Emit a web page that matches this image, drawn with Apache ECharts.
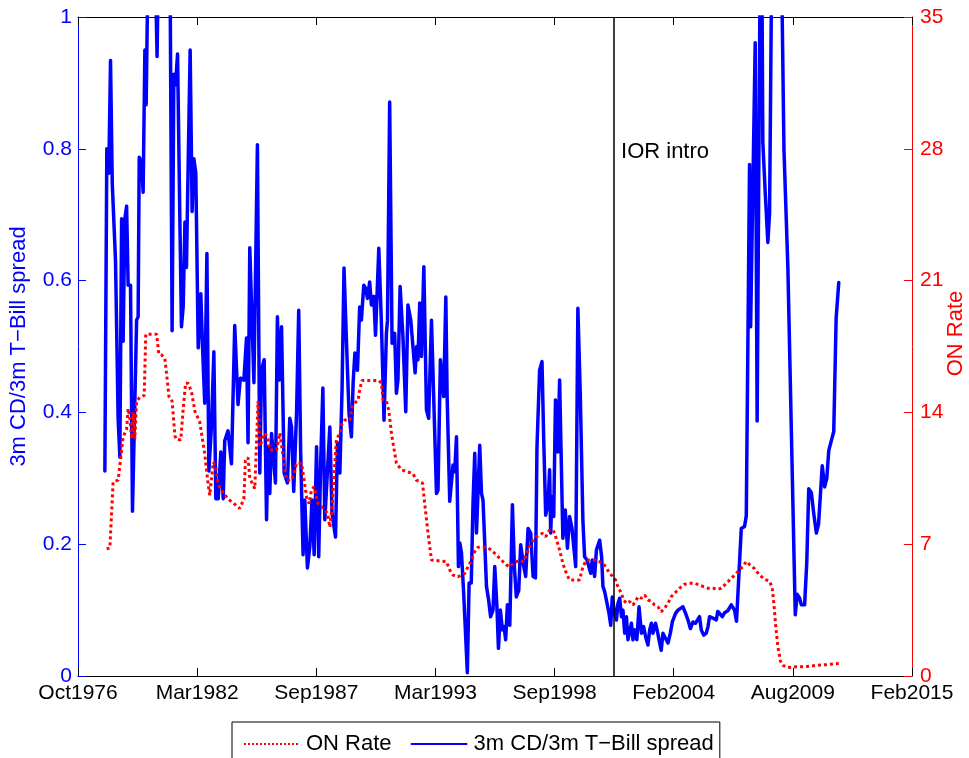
<!DOCTYPE html>
<html>
<head>
<meta charset="utf-8">
<script src="https://cdn.jsdelivr.net/npm/echarts@6/dist/echarts.min.js"></script>
<style>
html,body{margin:0;padding:0;background:#fff;overflow:hidden;}
#chart{width:969px;height:758px;}
</style>
</head>
<body>
<div id="chart"></div>
<script>
// ---- data (dates as decimal years) ----
const spreadDates = [
1978.00,1978.09,1978.18,1978.26,1978.34,1978.49,1978.61,1978.69,1978.77,1978.84,1978.92,1979.00,1979.07,1979.18,1979.27,1979.46,1979.53,1979.58,1979.69,1979.76,1979.84,1979.90,1979.99,1980.07,1980.21,1980.40,1980.57,1980.72,1980.85,1980.99,
1981.09,1981.17,1981.25,1981.34,1981.45,1981.52,1981.60,1981.68,1981.75,1981.83,1981.92,1982.01,1982.09,1982.18,1982.29,1982.41,1982.49,1982.59,1982.69,1982.78,1982.90,1983.01,1983.10,1983.21,1983.33,1983.44,1983.51,1983.66,1983.82,1983.97,
1984.12,1984.23,1984.39,1984.51,1984.58,1984.66,1984.85,1985.01,1985.12,1985.20,1985.32,1985.43,1985.50,1985.58,1985.66,1985.73,1985.84,1985.93,1986.01,1986.12,1986.24,1986.39,1986.50,1986.58,1986.68,1986.81,1986.91,1987.00,1987.11,1987.19,
1987.31,1987.42,1987.52,1987.62,1987.73,1987.83,1987.92,1988.02,1988.11,1988.34,1988.44,1988.60,1988.69,1988.80,1988.90,1988.99,1989.10,1989.22,1989.33,1989.41,1989.49,1989.61,1989.71,1989.79,1989.90,1989.99,1990.07,1990.17,1990.25,1990.36,
1990.44,1990.59,1990.71,1990.83,1990.94,1990.99,1991.09,1991.20,1991.32,1991.40,1991.47,1991.57,1991.70,1991.83,1991.93,1992.06,1992.16,1992.26,1992.33,1992.39,1992.47,1992.55,1992.66,1992.78,1992.88,1993.01,1993.24,1993.31,1993.42,1993.51,
1993.57,1993.67,1993.73,1993.85,1994.00,1994.08,1994.16,1994.25,1994.31,1994.39,1994.49,1994.66,1994.74,1994.84,1994.92,1995.00,1995.08,1995.23,1995.31,1995.38,1995.54,1995.64,1995.73,1995.84,1995.92,1996.02,1996.09,1996.18,1996.27,1996.35,
1996.42,1996.50,1996.61,1996.73,1996.82,1996.91,1997.02,1997.11,1997.23,1997.34,1997.45,1997.57,1997.68,1997.79,1997.86,1997.98,1998.09,1998.17,1998.26,1998.37,1998.44,1998.49,1998.55,1998.63,1998.71,1998.82,1998.90,1999.05,1999.16,1999.26,
1999.36,1999.47,1999.64,1999.74,1999.85,1999.97,2000.05,2000.16,2000.33,2000.40,2000.51,2000.59,2000.74,2000.83,2000.89,2000.97,2001.08,2001.17,2001.25,2001.32,2001.43,2001.51,2001.58,2001.66,2001.74,2001.81,2001.89,2001.97,2002.04,2002.12,
2002.20,2002.27,2002.37,2002.45,2002.55,2002.66,2002.76,2002.85,2002.96,2003.04,2003.12,2003.19,2003.31,2003.40,2003.50,2003.57,2003.65,2003.80,2003.88,2003.99,2004.08,2004.23,2004.34,2004.57,2004.69,2004.80,2004.91,2005.03,2005.14,2005.24,
2005.33,2005.41,2005.52,2005.64,2005.72,2005.79,2005.94,2006.10,2006.17,2006.25,2006.38,2006.48,2006.63,2006.79,2006.94,2007.03,2007.14,2007.25,2007.40,2007.48,2007.63,2007.68,2007.74,2007.89,2007.98,2008.16,2008.24,2008.35,2008.47,2008.55,
2008.78,2009.01,2009.21,2009.39,2009.73,2009.82,2009.93,2010.01,2010.16,2010.26,2010.35,2010.47,2010.57,2010.70,2010.80,2010.97,2011.08,2011.18,2011.27,2011.50,2011.61,2011.73
];
const spreadValues = [
0.311,0.80,0.763,0.934,0.748,0.63,0.39,0.332,0.694,0.508,0.694,0.713,0.593,0.593,0.25,0.54,0.545,0.787,0.78,0.734,0.95,0.867,1.10,1.45,1.25,0.94,1.35,1.60,1.35,1.10,
0.524,0.913,0.897,0.944,0.684,0.53,0.561,0.689,0.62,0.78,0.95,0.705,0.785,0.763,0.498,0.58,0.498,0.414,0.641,0.311,0.38,0.492,0.269,0.269,0.34,0.269,0.357,0.372,0.322,0.532,
0.412,0.452,0.449,0.513,0.354,0.65,0.445,0.806,0.308,0.464,0.48,0.237,0.348,0.277,0.368,0.338,0.293,0.545,0.449,0.53,0.308,0.293,0.391,0.378,0.28,0.399,0.555,0.338,0.184,0.267,
0.164,0.196,0.267,0.184,0.348,0.181,0.323,0.437,0.237,0.378,0.247,0.211,0.354,0.308,0.434,0.619,0.51,0.399,0.363,0.445,0.49,0.464,0.56,0.54,0.593,0.588,0.573,0.598,0.563,0.576,
0.517,0.649,0.535,0.388,0.52,0.54,0.871,0.505,0.52,0.429,0.449,0.591,0.515,0.401,0.563,0.54,0.5,0.46,0.5,0.48,0.566,0.485,0.621,0.404,0.391,0.54,0.277,0.282,0.48,0.48,
0.424,0.575,0.424,0.265,0.32,0.31,0.363,0.166,0.202,0.187,0.126,0.005,0.141,0.141,0.262,0.338,0.217,0.35,0.277,0.267,0.136,0.115,0.09,0.1,0.166,0.105,0.042,0.1,0.07,0.075,
0.055,0.108,0.077,0.26,0.166,0.12,0.13,0.199,0.17,0.151,0.224,0.217,0.151,0.149,0.348,0.464,0.477,0.358,0.244,0.262,0.313,0.217,0.272,0.242,0.419,0.34,0.449,0.209,0.252,0.194,
0.242,0.224,0.166,0.558,0.429,0.237,0.181,0.176,0.156,0.176,0.151,0.191,0.206,0.181,0.136,0.128,0.11,0.095,0.077,0.12,0.095,0.085,0.11,0.118,0.09,0.1,0.065,0.09,0.055,0.055,
0.08,0.055,0.07,0.055,0.105,0.065,0.075,0.06,0.047,0.07,0.08,0.065,0.08,0.067,0.05,0.039,0.065,0.055,0.05,0.065,0.082,0.095,0.1,0.105,0.095,0.085,0.072,0.082,0.08,0.085,
0.09,0.07,0.062,0.065,0.075,0.09,0.088,0.085,0.098,0.1,0.09,0.096,0.099,0.108,0.1,0.083,0.153,0.224,0.227,0.243,0.776,0.53,0.53,0.961,0.387,1.3,0.81,0.734,0.658,0.703,
1.6,1.3,0.799,0.62,0.093,0.124,0.118,0.108,0.108,0.173,0.284,0.278,0.249,0.217,0.23,0.319,0.287,0.3,0.342,0.371,0.543,0.597
];
const onRateDates = [
1978.08,1978.23,1978.38,1978.61,1978.84,1979.00,1979.07,1979.15,1979.23,1979.30,1979.38,1979.46,1979.61,1979.81,1979.88,1980.38,1980.48,1980.61,1980.76,1980.95,1981.09,1981.22,1981.29,1981.49,1981.60,1981.71,1981.83,1981.98,1982.14,1982.36,
1982.59,1982.75,1982.82,1982.98,1983.09,1983.21,1983.36,1983.66,1983.89,1984.20,1984.39,1984.46,1984.58,1984.66,1984.89,1985.04,1985.12,1985.35,1985.47,1985.58,1985.89,1986.04,1986.24,1986.35,1986.58,1986.70,1986.81,1987.04,1987.16,1987.27,
1987.39,1987.50,1987.62,1987.80,1987.96,1988.11,1988.23,1988.34,1988.44,1988.57,1988.64,1988.80,1988.90,1989.03,1989.26,1989.36,1989.49,1989.64,1989.71,1989.82,1990.59,1990.71,1990.79,1990.94,1991.05,1991.17,1991.40,1991.63,1992.16,1992.32,
1992.60,1992.70,1992.85,1993.01,1993.70,1993.85,1994.00,1994.23,1994.54,1994.69,1994.85,1995.00,1995.15,1995.54,1995.77,1995.99,1996.22,1996.45,1996.61,1996.76,1997.07,1997.22,1997.37,1997.52,1997.68,1997.83,1997.98,1998.11,1998.26,1998.44,
1998.59,1998.67,1998.90,1999.05,1999.21,1999.36,1999.82,1999.97,2000.13,2000.51,2000.74,2000.89,2001.02,2001.20,2001.35,2001.47,2001.58,2001.74,2001.84,2001.97,2002.12,2002.27,2002.39,2002.50,2002.66,2002.81,2002.96,2003.12,2003.27,2003.42,
2003.57,2003.73,2003.88,2004.03,2004.18,2004.34,2004.49,2004.64,2004.87,2005.10,2005.33,2005.52,2005.72,2005.94,2006.17,2006.33,2006.48,2006.63,2006.79,2006.94,2007.09,2007.32,2007.48,2007.63,2007.86,2008.09,2008.32,2008.55,2008.67,2008.75,
2008.83,2008.93,2009.05,2009.16,2009.39,2009.78,2010.24,2010.70,2011.15,2011.73
];
const onRateValues = [
6.75,6.8,10.3,10.4,12.7,13.1,14.2,13.7,12.6,14.0,12.6,14.6,14.8,14.9,18.15,18.15,17.1,17.05,16.85,14.8,14.6,12.75,12.55,12.55,14.2,15.55,15.55,15.1,14.05,13.5,
11.8,10.15,9.6,11.35,11.15,10.15,9.86,9.4,9.2,8.9,9.4,11.45,11.6,10.5,9.95,14.6,12.2,12.9,12.7,12.0,12.0,12.9,11.3,10.4,10.4,10.75,11.3,11.3,10.4,9.5,
9.15,9.9,10.05,9.15,9.0,8.8,8.65,7.9,9.0,11.3,12.55,12.9,13.4,13.6,13.6,14.3,14.5,14.65,15.2,15.7,15.7,15.55,14.65,14.6,14.1,12.9,11.3,10.95,10.75,10.4,
10.25,9.15,7.6,6.16,6.07,5.63,5.36,5.27,5.45,5.8,6.16,6.6,6.84,6.84,6.69,6.43,6.16,5.9,5.8,5.98,6.16,6.07,6.43,6.87,7.22,7.4,7.49,7.58,7.4,7.75,
7.75,7.58,6.69,5.98,5.45,5.1,5.1,5.8,6.16,6.16,6.07,5.98,5.8,5.45,5.27,5.1,4.74,4.39,4.04,3.86,3.95,3.77,3.95,4.21,4.13,4.3,4.04,3.95,3.77,3.68,
3.41,3.6,3.86,4.21,4.39,4.57,4.74,4.87,4.92,4.92,4.83,4.74,4.66,4.66,4.6,4.66,4.83,5.0,5.19,5.36,5.54,5.81,6.08,5.92,5.7,5.36,5.14,5.03,4.69,3.8,
2.68,1.56,0.78,0.56,0.45,0.49,0.5,0.56,0.6,0.67
];
const iorIntroDate = 2001.40;
const xTickLabels = ['Oct1976','Mar1982','Sep1987','Mar1993','Sep1998','Feb2004','Aug2009','Feb2015'];
const leftTicks = [0, 0.2, 0.4, 0.6, 0.8, 1];
const rightTicks = [0, 7, 14, 21, 28, 35];

// ---- helpers ----
// decimal year -> MATLAB-style serial day number
function toDayNum(y) {
  const yr = Math.floor(y);
  const s = Date.UTC(yr, 0, 1), e = Date.UTC(yr + 1, 0, 1);
  return (s + (y - yr) * (e - s)) / 86400000 + 719529;
}
const X_MIN = 722000, X_STEP = 2000, X_MAX = X_MIN + X_STEP * (xTickLabels.length - 1);
const spreadData = spreadDates.map((d, i) => [toDayNum(d), spreadValues[i]]);
const onRateData = onRateDates.map((d, i) => [toDayNum(d), onRateValues[i]]);
const iorX = toDayNum(iorIntroDate);

const FONT = '"Liberation Sans", Arial, Helvetica, sans-serif';
const BLUE = '#0000ff', RED = '#ff0000';

const chart = echarts.init(document.getElementById('chart'), null, {renderer: 'canvas'});
chart.setOption({
  animation: false,
  backgroundColor: '#fff',
  textStyle: {fontFamily: FONT},
  grid: {left: 78, right: 57, top: 17, bottom: 82, containLabel: false, outerBoundsMode: 'none'},
  legend: {
    data: ['ON Rate', '3m CD/3m T\u2212Bill spread'],
    left: 232, top: 722,
    itemWidth: 55, itemHeight: 3, itemGap: 19,
    padding: [11, 6, 22, 11],
    borderColor: '#000', borderWidth: 1, borderRadius: 0,
    backgroundColor: '#fff',
    itemStyle: {opacity: 0},
    textStyle: {fontSize: 22, color: '#000', fontFamily: FONT, padding: [0, 0, 0, 2]}
  },
  xAxis: [{
    type: 'value', min: X_MIN, max: X_MAX, interval: X_STEP,
    axisLine: {show: true, onZero: false, lineStyle: {color: '#000', width: 1}},
    axisTick: {show: true, inside: true, length: 8, lineStyle: {color: '#000'}},
    splitLine: {show: false},
    axisLabel: {
      show: true, color: '#000', fontSize: 21, margin: 7, fontFamily: FONT,
      showMinLabel: true, showMaxLabel: true,
      formatter: v => xTickLabels[Math.round((v - X_MIN) / X_STEP)]
    }
  }, {
    type: 'value', position: 'top', min: X_MIN, max: X_MAX, interval: X_STEP,
    axisLine: {show: true, onZero: false, lineStyle: {color: '#000', width: 1}},
    axisTick: {show: true, inside: true, length: 8, lineStyle: {color: '#000'}},
    splitLine: {show: false},
    axisLabel: {show: false}
  }],
  yAxis: [{
    type: 'value', position: 'left', min: leftTicks[0], max: leftTicks[leftTicks.length - 1],
    interval: leftTicks[1] - leftTicks[0],
    name: '3m CD/3m T\u2212Bill spread', nameLocation: 'middle', nameGap: 48, nameRotate: 90,
    nameMoveOverlap: false,
    nameTextStyle: {color: BLUE, fontSize: 22, fontFamily: FONT},
    axisLine: {show: true, onZero: false, lineStyle: {color: BLUE, width: 1}},
    axisTick: {show: true, inside: true, length: 8, lineStyle: {color: BLUE}},
    splitLine: {show: false},
    axisLabel: {color: BLUE, fontSize: 21, margin: 6, fontFamily: FONT}
  }, {
    type: 'value', position: 'right', min: rightTicks[0], max: rightTicks[rightTicks.length - 1],
    interval: rightTicks[1] - rightTicks[0],
    name: 'ON Rate', nameLocation: 'middle', nameGap: 33, nameRotate: 90,
    nameMoveOverlap: false,
    nameTextStyle: {color: RED, fontSize: 22, fontFamily: FONT, padding: [0, 0, 0, 26]},
    axisLine: {show: true, onZero: false, lineStyle: {color: RED, width: 1}},
    axisTick: {show: true, inside: true, length: 8, lineStyle: {color: RED}},
    splitLine: {show: false},
    axisLabel: {color: RED, fontSize: 21, margin: 8, fontFamily: FONT}
  }],
  series: [{
    name: '3m CD/3m T\u2212Bill spread',
    type: 'line', xAxisIndex: 0, yAxisIndex: 0,
    data: spreadData, showSymbol: false, symbol: 'none', clip: true, z: 2,
    lineStyle: {color: BLUE, width: 3.5, join: 'round', cap: 'round'},
    itemStyle: {color: BLUE},
    emphasis: {disabled: true},
    markLine: {
      silent: true, symbol: ['none', 'none'], animation: false,
      label: {show: false},
      lineStyle: {color: '#000', width: 1.5, type: 'solid'},
      emphasis: {disabled: true},
      data: [{xAxis: iorX}]
    },
    markPoint: {
      silent: true, symbol: 'circle', symbolSize: 0, animation: false,
      itemStyle: {color: 'rgba(0,0,0,0)'},
      label: {show: true, position: 'right', distance: 7, formatter: 'IOR intro',
              color: '#000', fontSize: 22, fontFamily: FONT},
      data: [{coord: [iorX, 0.795]}]
    }
  }, {
    name: 'ON Rate',
    type: 'line', xAxisIndex: 0, yAxisIndex: 1,
    data: onRateData, showSymbol: false, symbol: 'none', clip: true, z: 3,
    lineStyle: {color: RED, width: 3, type: 'dotted', cap: 'butt'},
    itemStyle: {color: RED},
    emphasis: {disabled: true}
  }]
});
</script>
</body>
</html>
